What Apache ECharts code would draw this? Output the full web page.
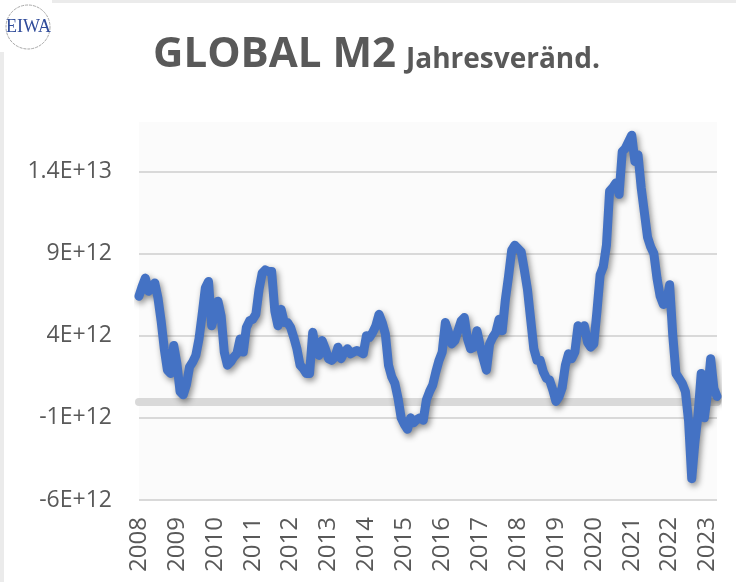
<!DOCTYPE html>
<html>
<head>
<meta charset="utf-8">
<script src="https://cdn.jsdelivr.net/npm/echarts@6/dist/echarts.min.js"></script>
<style>
  html, body { margin: 0; padding: 0; background: #fff; }
  #chart { width: 736px; height: 582px; }
</style>
</head>
<body>
<div id="chart"></div>
<script>
// Jahre und Monate der Kategorieachse
const years = [2008, 2009, 2010, 2011, 2012, 2013, 2014, 2015, 2016, 2017, 2018, 2019, 2020, 2021, 2022, 2023]
const months = ['01', '02', '03', '04', '05', '06', '07', '08', '09', '10', '11', '12']
const lastMonth = 4 // Daten bis April 2023

// Globale M2 Jahresveränderung, in Billionen (1E+12)
const m2Change = [
  6.4, 7.0, 7.5, 6.7, 7.0, 7.2, 6.3, 4.9, 3.2, 1.9, 1.7, 3.4,          // 2008
  2.3, 0.6, 0.4, 1.0, 2.1, 2.4, 2.8, 3.8, 5.3, 6.9, 7.3, 4.6,          // 2009
  5.3, 6.1, 5.2, 3.0, 2.2, 2.4, 2.7, 2.9, 3.8, 3.0, 4.5, 4.9,          // 2010
  5.0, 5.3, 6.8, 7.8, 8.0, 7.9, 7.9, 5.5, 4.6, 5.6, 4.8, 4.8,          // 2011
  4.5, 3.9, 3.2, 2.2, 2.0, 1.7, 1.7, 4.2, 3.2, 2.8, 3.7, 3.2,          // 2012
  2.6, 2.5, 2.7, 3.3, 2.6, 3.0, 3.2, 2.9, 3.0, 3.1, 3.0, 2.9,          // 2013
  4.0, 3.9, 4.2, 4.6, 5.3, 4.8, 4.1, 2.2, 1.5, 1.1, 0.2, -1.0,         // 2014
  -1.4, -1.7, -1.0, -1.3, -1.1, -1.0, -1.15, 0.1, 0.6, 1.0, 1.8, 2.5,  // 2015
  3.0, 4.8, 4.2, 3.5, 3.7, 4.3, 4.9, 5.1, 3.8, 3.2, 3.3, 4.3,          // 2016
  3.4, 2.6, 1.9, 3.5, 3.9, 4.2, 5.0, 4.3, 6.2, 7.6, 9.2, 9.5,          // 2017
  9.3, 9.1, 8.0, 6.8, 5.0, 3.2, 2.5, 2.5, 1.8, 1.4, 1.3, 0.7,          // 2018
  0.0, 0.3, 0.85, 2.2, 2.9, 2.6, 3.0, 4.6, 4.4, 4.6, 3.6, 3.3,         // 2019
  3.5, 5.5, 7.7, 8.2, 9.5, 12.8, 13.0, 13.3, 12.6, 15.2, 15.4, 15.8,   // 2020
  16.2, 14.6, 15.0, 13.0, 11.5, 10.0, 9.4, 9.0, 7.5, 6.4, 5.9, 6.0,    // 2021
  7.1, 4.0, 1.7, 1.4, 1.1, 0.6, -1.2, -4.7, -2.5, -0.8, 1.7, -1.0,     // 2022
  0.5, 2.6, 0.8, 0.3                                                   // 2023
]

// Achsenbereich (Billionen)
const yMin = -6
const yMax = 17
const yStep = 5

const categories = []
years.forEach((y) => {
  months.forEach((m, i) => {
    if (y < 2023 || i < lastMonth) categories.push(y + '-' + m)
  })
})

const textColor = '#595959'

const option = {
  animation: false,
  backgroundColor: '#ffffff',
  grid: {
    left: 139,
    right: 19,
    top: 122,
    bottom: 82,
    show: true,
    backgroundColor: '#fbfbfb',
    borderWidth: 0
  },
  graphic: [
    // Rahmen links und oben
    { type: 'rect', left: 0, top: 0, shape: { width: 4, height: 582 }, style: { fill: '#ebebeb' } },
    { type: 'rect', left: 0, top: 0, shape: { width: 736, height: 3 }, style: { fill: '#ebebeb' } },
    // Logo
    { type: 'rect', left: 0, top: 0, shape: { width: 52, height: 52 }, style: { fill: '#ffffff' } },
    {
      type: 'circle',
      shape: { cx: 28, cy: 27, r: 22 },
      style: { fill: '#ffffff', stroke: '#a8a8a8', lineWidth: 1, lineDash: [3, 1] }
    },
    {
      type: 'text',
      x: 28.5, y: 27,
      style: {
        text: 'EIWA',
        fill: '#2f4b9a',
        font: '18px "Liberation Serif", "DejaVu Serif", serif',
        align: 'center',
        verticalAlign: 'middle'
      }
    },
    // Titel
    {
      type: 'text',
      x: 153, y: 55,
      style: {
        text: 'GLOBAL M2',
        fill: textColor,
        font: 'bold 42px "Open Sans", sans-serif',
        align: 'left',
        verticalAlign: 'middle'
      }
    },
    {
      type: 'text',
      x: 406, y: 60,
      style: {
        text: 'Jahresveränd.',
        fill: textColor,
        font: 'bold 28px "Open Sans", sans-serif',
        align: 'left',
        verticalAlign: 'middle'
      }
    }
  ],
  xAxis: [{
    type: 'category',
    data: categories,
    boundaryGap: false,
    position: 'bottom',
    axisLine: { show: false, onZero: false },
    axisTick: { show: false },
    axisLabel: {
      interval: 11,
      rotate: 90,
      margin: 17,
      color: textColor,
      fontSize: 24,
      fontFamily: 'Open Sans',
      formatter: (value) => value.slice(0, 4)
    },
    splitLine: { show: false }
  }, {
    // Nulllinie
    type: 'category',
    data: categories,
    boundaryGap: false,
    position: 'bottom',
    axisLine: { show: true, onZero: true, lineStyle: { color: '#d9d9d9', width: 8 } },
    axisTick: { show: false },
    axisLabel: { show: false },
    splitLine: { show: false }
  }],
  yAxis: {
    type: 'value',
    min: yMin,
    max: yMax,
    interval: yStep,
    axisLine: { show: false },
    axisTick: { show: false },
    axisLabel: {
      showMaxLabel: false,
      margin: 27,
      color: textColor,
      fontSize: 23,
      fontFamily: 'Open Sans',
      formatter: (value) => (value * 1e12).toExponential().toUpperCase()
    },
    splitLine: {
      showMaxLine: false,
      lineStyle: { color: '#d9d9d9', width: 2 }
    }
  },
  series: [{
    type: 'line',
    name: 'Global M2',
    data: m2Change,
    symbol: 'none',
    lineStyle: {
      color: '#4472c4',
      width: 9,
      cap: 'round',
      join: 'round',
      shadowColor: 'rgba(0, 0, 0, 0.45)',
      shadowBlur: 6,
      shadowOffsetX: 2,
      shadowOffsetY: 3
    },
    z: 3
  }]
}

const chart = echarts.init(document.getElementById('chart'))
chart.setOption(option)
</script>
</body>
</html>
